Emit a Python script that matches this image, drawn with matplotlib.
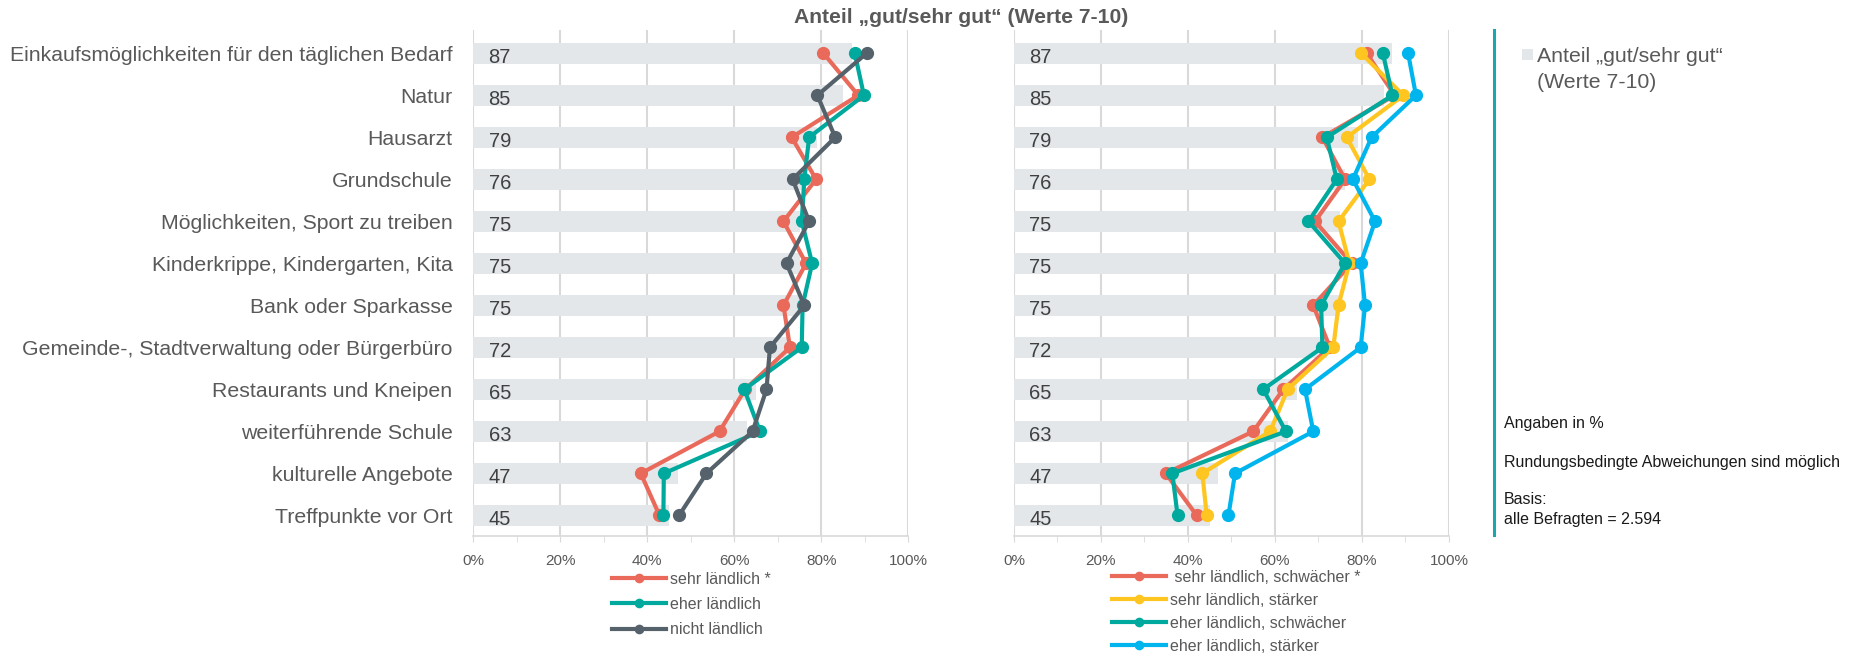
import matplotlib
matplotlib.use("Agg")
import matplotlib.pyplot as plt
from matplotlib.lines import Line2D
from matplotlib.ticker import MultipleLocator, FuncFormatter

plt.rcParams["font.family"] = ["Liberation Sans", "DejaVu Sans"]

# data
categories = [
    "Einkaufsmöglichkeiten für den täglichen Bedarf",
    "Natur",
    "Hausarzt",
    "Grundschule",
    "Möglichkeiten, Sport zu treiben",
    "Kinderkrippe, Kindergarten, Kita",
    "Bank oder Sparkasse",
    "Gemeinde-, Stadtverwaltung oder Bürgerbüro",
    "Restaurants und Kneipen",
    "weiterführende Schule",
    "kulturelle Angebote",
    "Treffpunkte vor Ort",
]
anteil = [87, 85, 79, 76, 75, 75, 75, 72, 65, 63, 47, 45]

# left panel
sehr_laendlich = [80.5, 88.5, 73.2, 78.8, 71.3, 76.5, 71.3, 72.8, 62.5, 56.6, 38.5, 42.8]
eher_laendlich = [87.7, 89.8, 77.2, 76.1, 75.5, 77.9, 75.7, 75.5, 62.3, 65.9, 43.8, 43.7]
nicht_laendlich = [90.4, 79.1, 83.2, 73.4, 77.2, 72.0, 76.1, 68.2, 67.4, 64.2, 53.6, 47.3]

# right panel
sehr_schwach = [81.1, 87.5, 70.9, 76.1, 69.2, 77.6, 68.8, 72.6, 61.9, 55.0, 34.9, 42.0]
sehr_stark = [79.8, 89.5, 76.5, 81.7, 74.6, 77.1, 74.6, 73.4, 62.9, 58.9, 43.3, 44.3]
eher_schwach = [84.8, 87.0, 71.9, 74.2, 67.7, 76.1, 70.6, 70.9, 57.3, 62.5, 36.4, 37.6]
eher_stark = [90.6, 92.4, 82.2, 77.9, 83.0, 79.7, 80.7, 79.7, 66.9, 68.8, 50.8, 49.3]

left_series = [
    ("sehr ländlich *", sehr_laendlich, "#E96A5A"),
    ("eher ländlich", eher_laendlich, "#00A99D"),
    ("nicht ländlich", nicht_laendlich, "#55626B"),
]
right_series = [
    (" sehr ländlich, schwächer *", sehr_schwach, "#E96A5A"),
    ("sehr ländlich, stärker", sehr_stark, "#FFC520"),
    ("eher ländlich, schwächer", eher_schwach, "#00A99D"),
    ("eher ländlich, stärker", eher_stark, "#00B5EE"),
]

BAR_COLOR = "#E3E7EA"
GRID_COLOR = "#D9D9D9"
TEXT_COLOR = "#595959"

W, H = 1855, 653
fig = plt.figure(figsize=(W / 100, H / 100), dpi=100)

ax_h = (536 - 30) / H
ax_w = 435 / W
ax_left = fig.add_axes([473.3 / W, 1 - 536 / H, ax_w, ax_h])
ax_right = fig.add_axes([1014 / W, 1 - 536 / H, ax_w, ax_h])

rows = list(range(len(categories)))


def setup_axis(ax, series):
    bars = ax.barh(rows, anteil, height=0.5, color=BAR_COLOR, zorder=1)
    for i, v in enumerate(anteil):
        ax.text(3.5, i + 0.22, str(v), ha="left", va="baseline",
                fontsize=14.5, color="#404040", zorder=2)
    handles = []
    for k, (label, values, color) in enumerate(series):
        (ln,) = ax.plot(values, rows, color=color, lw=3, marker="o",
                        markersize=8.5, label=label, zorder=3 + k)
        handles.append(ln)
    ax.set_xlim(0, 100)
    ax.set_ylim(11.49, -0.555)
    ax.xaxis.set_major_locator(MultipleLocator(20))
    ax.xaxis.set_minor_locator(MultipleLocator(10))
    ax.xaxis.set_major_formatter(FuncFormatter(lambda x, p: f"{x:.0f}%"))
    ax.grid(axis="x", which="major", color=GRID_COLOR, lw=1.5, zorder=0)
    ax.set_axisbelow(True)
    for s in ["top", "right", "left"]:
        ax.spines[s].set_visible(False)
    ax.spines["bottom"].set_color(GRID_COLOR)
    ax.spines["bottom"].set_linewidth(1.2)
    ax.tick_params(axis="x", which="both", colors=GRID_COLOR, length=4,
                   labelcolor=TEXT_COLOR, labelsize=11, pad=9)
    ax.tick_params(axis="y", length=0)
    return bars, handles


bars, left_handles = setup_axis(ax_left, left_series)
_, right_handles = setup_axis(ax_right, right_series)

ax_left.set_yticks(rows)
ax_left.set_yticklabels(categories, fontsize=15.3, color=TEXT_COLOR)
ax_left.tick_params(axis="y", pad=15)
ax_right.set_yticks(rows)
ax_right.set_yticklabels([])

# legends below panels
fig.legend(handles=left_handles, loc="upper left",
           bbox_to_anchor=(611.7 / W, 1 - 571.5 / H), frameon=False,
           fontsize=11.5, labelcolor=TEXT_COLOR, handlelength=3.4,
           handletextpad=0.25, labelspacing=0.65, borderpad=0,
           borderaxespad=0, markerscale=0.7)
fig.legend(handles=right_handles, loc="upper left",
           bbox_to_anchor=(1112 / W, 1 - 570 / H), frameon=False,
           fontsize=11.5, labelcolor=TEXT_COLOR, handlelength=3.4,
           handletextpad=0.25, labelspacing=0.5, borderpad=0,
           borderaxespad=0, markerscale=0.7)

# bar legend on the right
fig.legend(handles=[bars], labels=["Anteil „gut/sehr gut“"], loc="upper left",
           bbox_to_anchor=(1522 / W, 1 - 47 / H), frameon=False,
           fontsize=15.3, labelcolor=TEXT_COLOR, handlelength=0.5,
           handleheight=0.45, handletextpad=0.2, borderpad=0, borderaxespad=0)
fig.text(1537 / W, 1 - 88 / H, "(Werte 7-10)", fontsize=15.3,
         color=TEXT_COLOR, ha="left", va="baseline")

# title
fig.text(961 / W, 1 - 23 / H, "Anteil „gut/sehr gut“ (Werte 7-10)",
         fontsize=15.2, fontweight="bold", color=TEXT_COLOR,
         ha="center", va="baseline")

# side separator and notes
fig.add_artist(Line2D([1494.3 / W, 1494.3 / W], [1 - 30 / H, 1 - 535 / H],
                      color="#1AA7AD", lw=2.2))
notes = [
    ("Angaben in %", 428),
    ("Rundungsbedingte Abweichungen sind möglich", 467),
    ("Basis:", 504),
    ("alle Befragten = 2.594", 524),
]
for txt, yb in notes:
    fig.text(1504 / W, 1 - yb / H, txt, fontsize=11.5, color="#1A1A1A",
             ha="left", va="baseline")

fig.savefig("out.png", dpi=100)
